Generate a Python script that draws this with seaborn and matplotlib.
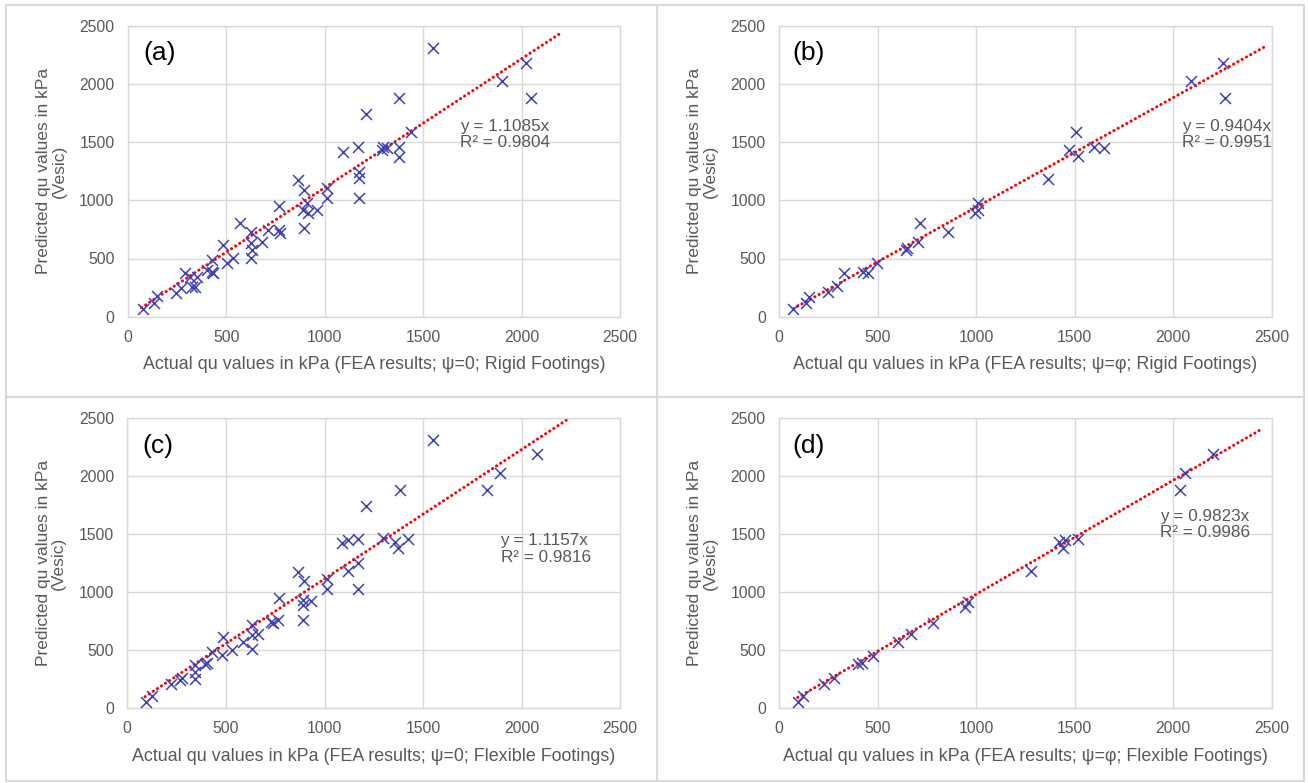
import numpy as np
import pandas as pd
import matplotlib
matplotlib.use("Agg")
import matplotlib.pyplot as plt
import seaborn as sns
from matplotlib.lines import Line2D

# ---------------- data ----------------
a_x = [76, 135, 147, 244, 271, 291, 316, 325, 342, 350, 401, 426, 426, 435, 482, 503, 533,
       570, 626, 626, 630, 626, 680, 714, 770, 768, 773, 865, 895, 895, 890, 910, 916, 962,
       1010, 1010, 1093, 1171, 1210, 1174, 1175, 1174, 1298, 1290, 1315, 1379, 1379, 1379,
       1438, 1548, 1898, 2022, 2046]
a_y = [63, 120, 178, 206, 249, 372, 344, 258, 258, 344, 401, 487, 387, 372, 613, 458, 501,
       808, 730, 630, 573, 501, 644, 745, 951, 745, 716, 1174, 1088, 759, 917, 974, 888, 917,
       1103, 1017, 1418, 1455, 1741, 1246, 1189, 1022, 1461, 1432, 1446, 1882, 1461, 1375,
       1584, 2306, 2028, 2182, 1882]

b_x = [73, 137, 154, 247, 293, 330, 428, 453, 499, 643, 648, 707, 716, 856, 995, 1012, 1012,
       1367, 1472, 1506, 1519, 1601, 1651, 2091, 2255, 2264]
b_y = [63, 115, 172, 215, 263, 372, 384, 378, 458, 573, 587, 644, 808, 730, 888, 979, 917,
       1180, 1432, 1584, 1383, 1461, 1452, 2028, 2182, 1882]

c_x = [95, 123, 221, 267, 275, 343, 343, 343, 394, 402, 427, 478, 487, 529, 588, 630, 630, 630,
       664, 728, 740, 766, 771, 864, 896, 892, 892, 892, 934, 1011, 1011, 1091, 1117, 1171,
       1117, 1171, 1171, 1210, 1298, 1357, 1374, 1383, 1425, 1549, 1826, 1890, 2076]
c_y = [57, 109, 207, 244, 259, 374, 316, 253, 379, 388, 489, 460, 612, 503, 575, 719, 632, 509,
       638, 747, 733, 762, 954, 1178, 1101, 934, 891, 762, 925, 1112, 1029, 1423, 1451, 1459,
       1187, 1250, 1026, 1745, 1471, 1431, 1385, 1882, 1457, 2314, 1882, 2032, 2190]

d_x = [95, 124, 230, 279, 403, 420, 479, 602, 668, 780, 944, 961, 1278, 1423, 1452, 1440, 1516,
       2035, 2061, 2205]
d_y = [57, 109, 207, 259, 379, 388, 454, 569, 638, 733, 877, 914, 1184, 1437, 1451, 1385, 1457,
       1882, 2032, 2190]

slopes = [1.1085, 0.9404, 1.1157, 0.9823]
r2_values = [0.9804, 0.9951, 0.9816, 0.9986]
trend_x_start = [70, 73, 90, 95]
trend_x_end = [2200, 2475, 2245, 2438]
panel_letters = ["(a)", "(b)", "(c)", "(d)"]
x_titles = [
    "Actual qu values in kPa (FEA results; ψ=0; Rigid Footings)",
    "Actual qu values in kPa (FEA results; ψ=φ; Rigid Footings)",
    "Actual qu values in kPa (FEA results; ψ=0; Flexible Footings)",
    "Actual qu values in kPa (FEA results; ψ=φ; Flexible Footings)",
]
y_title = "Predicted qu values in kPa\n(Vesic)"
ticks = [0, 500, 1000, 1500, 2000, 2500]

# ---------------- style ----------------
sns.set_theme(style="white")
plt.rcParams["font.family"] = ["Liberation Sans", "DejaVu Sans"]

W, H = 1308, 783
fig = plt.figure(figsize=(W / 100, H / 100), dpi=100)
fig.patch.set_facecolor("white")

GRAY_TXT = "#595959"
GRID = "#d9d9d9"
MARK = "#4040b8"

# axes rectangles in pixels: left, right, top, bottom
rects = [
    (127.7, 620.2, 25.7, 316.7),
    (779.0, 1271.5, 25.7, 316.7),
    (127.3, 620.3, 418.3, 708.3),
    (779.0, 1271.5, 418.3, 708.3),
]
eq_pos = [(0.675, 0.627), (0.818, 0.627), (0.757, 0.549), (0.774, 0.634)]
letter_pos = [(0.031, 0.905), (0.028, 0.905), (0.031, 0.905), (0.028, 0.905)]

xs = [a_x, b_x, c_x, d_x]
ys = [a_y, b_y, c_y, d_y]

for i in range(4):
    l, r, t, b = rects[i]
    ax = fig.add_axes([l / W, 1 - b / H, (r - l) / W, (b - t) / H])
    df = pd.DataFrame({"x": xs[i], "y": ys[i]})
    # trendline
    tx = np.array([trend_x_start[i], trend_x_end[i]])
    tdf = pd.DataFrame({"x": tx, "y": slopes[i] * tx})
    sns.lineplot(data=tdf, x="x", y="y", ax=ax, color="#ff0000", linewidth=2.2,
                 linestyle=(0, (0.05, 1.55)), dash_capstyle="round", zorder=2)
    sns.scatterplot(data=df, x="x", y="y", ax=ax, marker="x", color=MARK, s=62,
                    linewidth=1.1, zorder=3)
    ax.set_xlim(0, 2500)
    ax.set_ylim(0, 2500)
    ax.set_xticks(ticks)
    ax.set_yticks(ticks)
    ax.grid(True, color=GRID, linewidth=1.0)
    ax.set_axisbelow(True)
    for sp in ax.spines.values():
        sp.set_color(GRID)
        sp.set_linewidth(1.0)
    ax.tick_params(axis="both", length=0, labelsize=11.3, labelcolor=GRAY_TXT, pad=9.5)
    ax.set_xlabel(x_titles[i], fontsize=12.9, color=GRAY_TXT, labelpad=8)
    ax.set_ylabel(y_title, fontsize=12.5, color=GRAY_TXT, labelpad=9, linespacing=1.05)
    ax.text(letter_pos[i][0], letter_pos[i][1], panel_letters[i], transform=ax.transAxes,
            fontsize=19, color="black", ha="left", va="center")
    ax.text(eq_pos[i][0], eq_pos[i][1],
            f"y = {slopes[i]:.4f}x\nR² = {r2_values[i]:.4f}",
            transform=ax.transAxes, fontsize=12.3, color=GRAY_TXT, ha="left", va="center",
            linespacing=1.12)

# panel borders
def px_line(x0, y0, x1, y1):
    fig.add_artist(Line2D([x0 / W, x1 / W], [1 - y0 / H, 1 - y1 / H], color=GRID,
                          linewidth=1.5, transform=fig.transFigure))
px_line(6, 5, 1304, 5)
px_line(6, 781, 1304, 781)
px_line(6, 5, 6, 781)
px_line(1304, 5, 1304, 781)
px_line(657, 5, 657, 781)
px_line(6, 397, 1304, 397)

fig.savefig("out.png", dpi=100, facecolor="white")
